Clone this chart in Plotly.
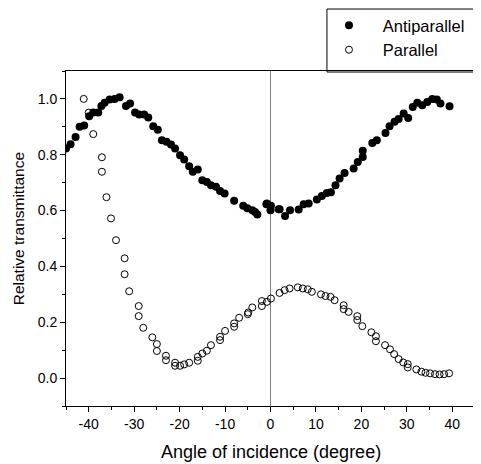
import plotly.graph_objects as go

anti_x = [-45.0, -44.0, -42.9, -42.0, -41.0, -39.9, -39.0, -37.9, -37.2, -36.5, -35.4, -34.3, -33.2,
          -31.8, -30.9, -29.8, -28.9, -27.8, -26.9, -25.8, -24.8, -23.9, -22.9, -21.9, -21.0, -19.9,
          -19.0, -17.9, -17.1, -16.0, -15.0, -14.0, -13.1, -12.0, -11.1, -10.1, -8.0, -6.0, -5.1,
          -4.0, -3.4, -2.9, -0.9, -0.8, 0.0, 0.1, 1.8, 2.0, 3.2, 4.3, 6.2, 7.3, 8.4, 10.2, 11.3, 12.4,
          13.3, 14.3, 15.2, 16.3, 18.3, 19.2, 20.3, 20.3, 22.4, 23.4, 25.3, 26.2, 27.3, 28.2, 29.3,
          30.3, 31.3, 32.3, 33.4, 34.5, 35.6, 36.6, 37.4, 39.4]
anti_y = [0.822, 0.838, 0.864, 0.900, 0.905, 0.938, 0.951, 0.951, 0.975, 0.986, 0.998, 1.000, 1.006,
          0.975, 0.984, 0.951, 0.944, 0.944, 0.933, 0.902, 0.890, 0.852, 0.847, 0.837, 0.822, 0.798,
          0.783, 0.759, 0.739, 0.747, 0.709, 0.702, 0.691, 0.685, 0.670, 0.661, 0.635, 0.617, 0.608,
          0.601, 0.595, 0.586, 0.623, 0.625, 0.601, 0.617, 0.605, 0.605, 0.581, 0.601, 0.604, 0.623,
          0.625, 0.640, 0.652, 0.663, 0.666, 0.691, 0.715, 0.735, 0.751, 0.774, 0.792, 0.814, 0.842,
          0.852, 0.878, 0.902, 0.918, 0.928, 0.948, 0.932, 0.971, 0.986, 0.977, 0.989, 1.000, 0.998,
          0.984, 0.974]

par_x = [-41.1, -40.0, -39.0, -37.1, -37.1, -36.1, -35.1, -34.0, -32.1, -32.1, -31.1, -29.0, -29.0,
         -28.0, -26.0, -25.0, -25.0, -23.0, -23.0, -21.0, -21.0, -19.9, -19.0, -17.9, -16.0, -16.0,
         -15.0, -14.0, -13.1, -11.1, -11.1, -10.0, -8.0, -8.0, -6.9, -5.0, -4.9, -4.0, -1.9, -1.9,
         -0.8, 0.1, 2.0, 3.1, 4.2, 6.0, 7.1, 8.2, 9.1, 11.1, 12.1, 13.2, 14.1, 16.1, 16.1, 17.2,
         19.1, 19.1, 20.2, 22.2, 23.2, 23.2, 25.2, 26.3, 27.2, 28.2, 29.2, 30.2, 30.2, 32.1, 33.2,
         34.1, 35.1, 36.2, 37.2, 38.2, 39.3]
par_y = [1.000, 0.951, 0.874, 0.791, 0.739, 0.648, 0.572, 0.494, 0.429, 0.372, 0.311, 0.258, 0.222,
         0.180, 0.146, 0.122, 0.097, 0.080, 0.064, 0.055, 0.044, 0.044, 0.049, 0.055, 0.076, 0.062,
         0.088, 0.098, 0.118, 0.148, 0.136, 0.169, 0.196, 0.184, 0.216, 0.229, 0.235, 0.253, 0.276,
         0.258, 0.273, 0.285, 0.305, 0.315, 0.321, 0.325, 0.321, 0.318, 0.309, 0.300, 0.294, 0.291,
         0.279, 0.261, 0.247, 0.237, 0.222, 0.208, 0.186, 0.164, 0.150, 0.132, 0.118, 0.103, 0.086,
         0.068, 0.056, 0.050, 0.038, 0.031, 0.023, 0.019, 0.017, 0.014, 0.013, 0.014, 0.017]

x_ticks = [-40, -30, -20, -10, 0, 10, 20, 30, 40]
y_ticks = [0.0, 0.2, 0.4, 0.6, 0.8, 1.0]
y_tick_labels = ["0.0", "0.2", "0.4", "0.6", "0.8", "1.0"]
x_title = "Angle of incidence (degree)"
y_title = "Relative transmittance"
series_names = ["Antiparallel", "Parallel"]

FONT = "Liberation Sans, Arial, sans-serif"
PAD = "\u00a0\u00a0\u00a0"

fig = go.Figure()
fig.add_trace(go.Scatter(x=anti_x, y=anti_y, mode="markers", name=PAD + series_names[0],
                         marker=dict(symbol="circle", size=8, color="black",
                                     line=dict(width=0))))
fig.add_trace(go.Scatter(x=par_x, y=par_y, mode="markers", name=PAD + series_names[1],
                         marker=dict(symbol="circle-open", size=7, color="black",
                                     line=dict(width=1, color="black"))))

fig.add_shape(type="line", xref="x", yref="paper", x0=0, x1=0, y0=0, y1=1,
              line=dict(color="#808080", width=1), layer="below")

# legend frame (extends past the right edge like the original)
fig.add_shape(type="rect", xref="paper", yref="paper", x0=0.638, x1=1.3, y0=0.997, y1=1.185,
              line=dict(color="black", width=1), fillcolor="white", layer="below")

fig.add_annotation(text=x_title, xref="paper", yref="paper", x=0.5, y=-0.137,
                   xanchor="center", yanchor="middle", showarrow=False,
                   font=dict(size=18, family=FONT, color="black"))
fig.add_annotation(text=y_title, xref="paper", yref="paper", x=-0.117, y=0.528,
                   xanchor="center", yanchor="middle", showarrow=False, textangle=-90,
                   font=dict(size=15.5, family=FONT, color="black"))

fig.update_layout(
    width=481, height=464,
    margin=dict(l=58, r=14, t=63, b=66, autoexpand=False),
    paper_bgcolor="white", plot_bgcolor="white",
    font=dict(family=FONT, size=14, color="black"),
    showlegend=True,
    legend=dict(x=0.643, y=1.188, xanchor="left", yanchor="top",
                borderwidth=0, bgcolor="rgba(0,0,0,0)",
                font=dict(size=16.5), tracegroupgap=0),
    xaxis=dict(range=[-45, 45], tickvals=x_ticks, ticktext=[str(v) for v in x_ticks],
               ticks="outside", ticklen=5, tickwidth=1, tickcolor="black",
               showline=True, linecolor="black", linewidth=1, mirror=True,
               showgrid=False, zeroline=False, automargin=False,
               minor=dict(tickvals=[-45, -35, -25, -15, -5, 5, 15, 25, 35, 45],
                          ticks="outside", ticklen=3, tickcolor="black", showgrid=False)),
    yaxis=dict(range=[-0.1, 1.1], tickvals=y_ticks, ticktext=y_tick_labels,
               ticks="outside", ticklen=5, tickwidth=1, tickcolor="black",
               showline=True, linecolor="black", linewidth=1, mirror=True,
               showgrid=False, zeroline=False, automargin=False,
               minor=dict(tickvals=[-0.1, 0.1, 0.3, 0.5, 0.7, 0.9, 1.1],
                          ticks="outside", ticklen=3, tickcolor="black", showgrid=False)),
)

fig.write_html("out.html")
